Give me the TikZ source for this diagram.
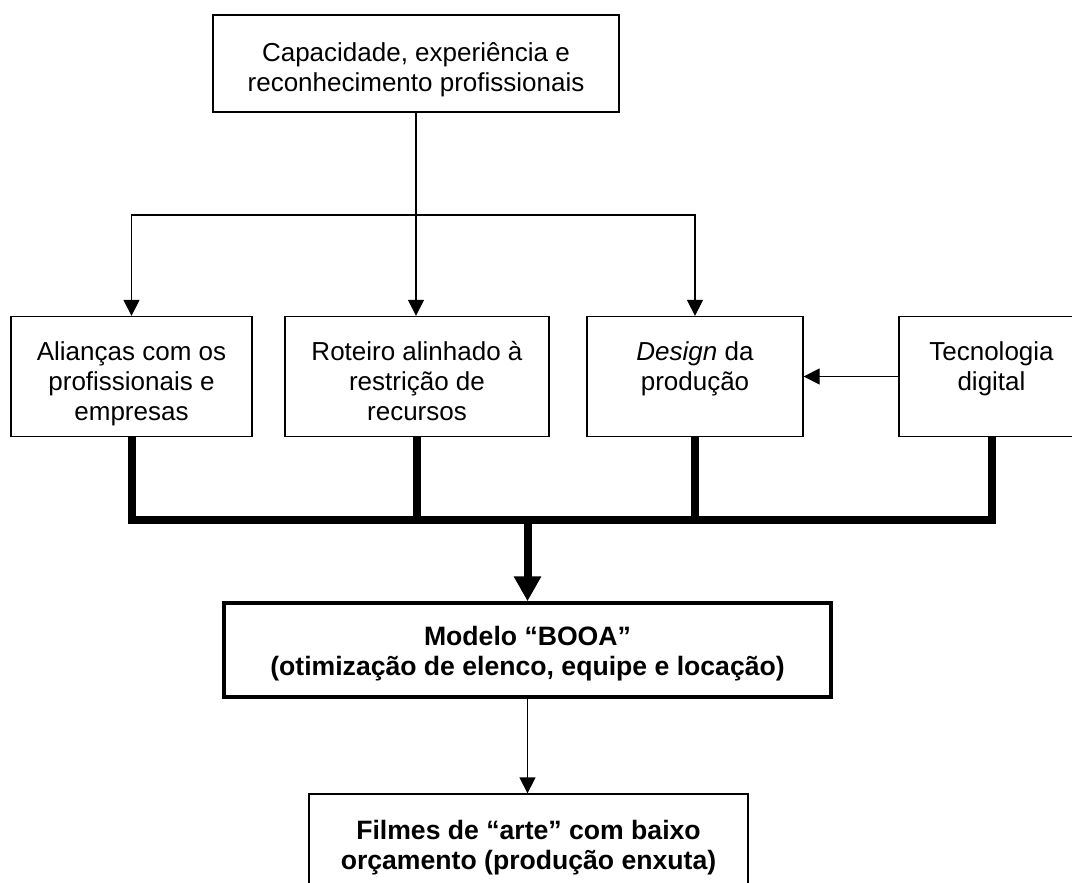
\documentclass[tikz,border=0pt]{standalone}
\usepackage{fontspec}
\setmainfont{Liberation Sans}
\usetikzlibrary{arrows.meta}

\begin{document}
\begin{tikzpicture}[x=1pt,y=-1pt,
  box/.style={draw, line width=1.3pt, inner sep=0pt, minimum height=120pt},
  keybox/.style={draw, line width=3.5pt, inner sep=0pt},
  txt/.style={anchor=north, inner sep=0pt, align=center,
    font=\fontsize{26}{30}\selectfont},
  btxt/.style={txt, font=\fontsize{26.6}{30}\selectfont\bfseries},
  link/.style={line width=1.3pt, -{Triangle[length=16pt,width=16pt]}},
  bus/.style={line width=8pt},
  busarrow/.style={line width=8pt, -{Triangle[length=25pt,width=26pt]}}
]
\useasboundingbox (0,0) rectangle (1072,883);
\fill[white] (0,0) rectangle (1072,883);
\clip (0,0) rectangle (1072,883);

% source box
\node[box, minimum width=406pt, minimum height=97pt] (top) at (416,63.5) {};
\node[txt] (ttop) at ([yshift=-26pt]top.north)
  {\strut Capacidade, experiência e\\\strut reconhecimento profissionais};

% row of factors
\node[box, minimum width=241pt] (b1) at (131.5,376.5) {};
\node[box, minimum width=264pt] (b2) at (417,376.5) {};
\node[box, minimum width=216pt] (b3) at (695,376.5) {};
\node[box, minimum width=185pt] (b4) at (991.5,376.5) {};
\node[txt] (t1) at ([yshift=-23.5pt]b1.north)
  {\strut Alianças com os\\\strut profissionais e\\\strut empresas};
\node[txt] (t2) at ([yshift=-23.5pt]b2.north)
  {\strut Roteiro alinhado à\\\strut restrição de\\\strut recursos};
\node[txt] (t3) at ([yshift=-23.5pt]b3.north)
  {\strut\textit{Design} da\\\strut produção};
\node[txt] (t4) at ([yshift=-23.5pt]b4.north)
  {\strut Tecnologia\\\strut digital};

% model box
\node[keybox, minimum width=607pt, minimum height=94pt] (booa) at (527.5,650) {};
\node[btxt] (tbooa) at ([yshift=-23pt]booa.north)
  {\strut Modelo “BOOA”\\\strut (otimização de elenco, equipe e locação)};

% outcome box
\node[box, minimum width=439pt] (film) at (528.5,854) {};
\node[btxt] (tfilm) at ([yshift=-25pt]film.north)
  {\strut Filmes de “arte” com baixo\\\strut orçamento (produção enxuta)};

% helper levels
\coordinate (split) at (0,215);
\coordinate (busy) at (0,520);

% distribution from the source box
\draw[line width=1.3pt] (top.south) -- (top.south |- split);
\draw[line width=1.3pt, {Triangle[length=16pt,width=16pt]}-{Triangle[length=16pt,width=16pt]}]
  (b1.north) -- (b1.north |- split) -- (b3.north |- split) -- (b3.north);
\draw[link] (top.south |- split) -- (top.south |- b2.north);
\draw[link] (b4.west) -- (b3.east);

% thick collector bus
\draw[bus] (b1.south) -- (b1.south |- busy) -- (b4.south |- busy) -- (b4.south);
\draw[bus] (b2.south) -- (b2.south |- busy);
\draw[bus] (b3.south) -- (b3.south |- busy);
\draw[busarrow] (booa.north |- busy) -- (booa.north);

% to the outcome
\draw[link] (booa.south) -- (booa.south |- film.north);
\end{tikzpicture}
\end{document}
